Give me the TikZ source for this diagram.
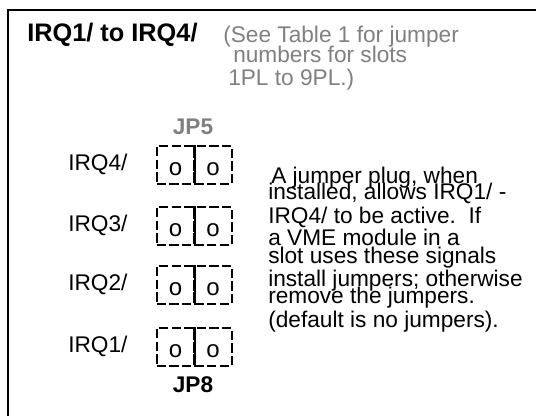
\documentclass[tikz,border=0pt]{standalone}
\usepackage{fontspec}
\setmainfont{Liberation Sans}
\definecolor{notegray}{RGB}{128,128,128}
\begin{document}
\begin{tikzpicture}[x=0.75pt,y=-0.75pt,
    txt/.style={anchor=base west,inner sep=0pt,font=\fontsize{17}{19}\selectfont},
    head/.style={anchor=base west,inner sep=0pt,font=\fontsize{19}{21}\selectfont\bfseries},
    jp/.style={anchor=base,inner sep=0pt,font=\fontsize{17}{19}\selectfont\bfseries},
    note/.style={txt,text=notegray},
    cell/.style={draw,dash pattern=on 7pt off 2.5pt,line width=1.2pt,
        minimum width=28.1pt,minimum height=28.5pt,inner sep=0pt,
        text height=15pt,text depth=0pt,font=\fontsize{18}{18}\selectfont},
    divider/.style={line width=1.2pt}]
    \useasboundingbox (0,0) rectangle (536,415);
    \draw[line width=1.5pt] (545,10) -- (8,10) -- (8,425);
    \node[head] (title) at (27,41) {IRQ1/ to IRQ4/};
    \node[note] (see1) at (223,42) {(See Table 1 for jumper};
    \node[note] (see2) at (233,62) {numbers for slots};
    \node[note] (see3) at (228,85) {1PL to 9PL.)};
    \node[jp,text=notegray] (jp5) at (193,134) {JP5};
    \node[txt] (irq4) at (68,170) {IRQ4/};
    \node[txt] (irq3) at (68,231) {IRQ3/};
    \node[txt] (irq2) at (68,290) {IRQ2/};
    \node[txt] (irq1) at (68,352) {IRQ1/};
    \node[cell] (a4) at (175.5,165) {o};
    \node[cell] (b4) at (213,165) {o};
    \node[cell] (a3) at (175.5,226) {o};
    \node[cell] (b3) at (213,226) {o};
    \node[cell] (a2) at (175.5,285) {o};
    \node[cell] (b2) at (213,285) {o};
    \node[cell] (a1) at (175.5,347) {o};
    \node[cell] (b1) at (213,347) {o};
    \draw[divider] (a4.north east) -- (a4.south east);
    \draw[divider] (a3.north east) -- (a3.south east);
    \draw[divider] (a2.north east) -- (a2.south east);
    \draw[divider] (a1.north east) -- (a1.south east);
    \node[jp] (jp8) at (193,392) {JP8};
    % text beside the jumpers
    \node[txt] (l1) at (271,183) {A jumper plug, when};
    \node[txt] (l2) at (268,199) {installed, allows IRQ1/ -};
    \node[txt] (l3) at (268,223) {IRQ4/ to be active.\ \ If};
    \node[txt] (l4) at (268,245) {a VME module in a};
    \node[txt] (l5) at (268,263) {slot uses these signals};
    \node[txt] (l6) at (268,286) {install jumpers; otherwise};
    \node[txt] (l7) at (268,303) {remove the jumpers.};
    \node[txt] (l8) at (268,327) {(default is no jumpers).};
\end{tikzpicture}
\end{document}
